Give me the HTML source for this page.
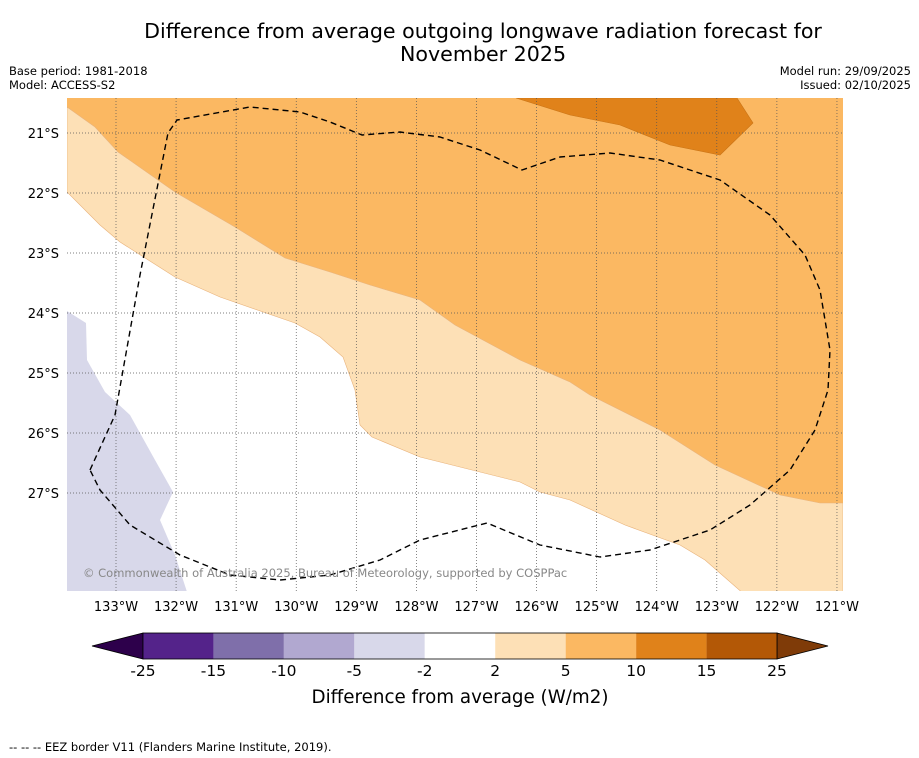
<!DOCTYPE html>
<html><head><meta charset="utf-8"><style>
body{margin:0;background:#fff;width:919px;height:758px;overflow:hidden;font-family:"DejaVu Sans","Liberation Sans",sans-serif}
svg{position:absolute;left:0;top:0}
</style></head><body>
<svg width="919" height="758" viewBox="0 0 919 758">
<text x="483" y="38" text-anchor="middle" font-size="20.6">Difference from average outgoing longwave radiation forecast for</text>
<text x="483" y="61" text-anchor="middle" font-size="20.6">November 2025</text>
<text x="9" y="75" font-size="11.5">Base period: 1981-2018</text>
<text x="9" y="89" font-size="11.5">Model: ACCESS-S2</text>
<text x="911" y="75" font-size="11.5" text-anchor="end">Model run: 29/09/2025</text>
<text x="911" y="89" font-size="11.5" text-anchor="end">Issued: 02/10/2025</text>
<defs><clipPath id="mc"><rect x="67" y="98" width="776" height="493"/></clipPath></defs>
<g clip-path="url(#mc)">
<rect x="67" y="98" width="776" height="493" fill="#fff"/>
<path fill="#fbb862" d="M60,98 L843,98 L843,503 L820,503 L780,495 L715,465 L660,430 L590,395 L570,382 L520,360 L455,325 L420,300 L370,285 L330,272 L285,258 L235,227 L175,192 L118,152 L95,127 L67,107 Z"/>
<path fill="#fde0b6" stroke="#e8b27a" stroke-width="0.6" d="M67,107 L95,127 L118,152 L175,192 L235,227 L285,258 L330,272 L370,285 L420,300 L455,325 L520,360 L570,382 L590,395 L660,430 L715,465 L780,495 L820,503 L843,503 L843,595 L745,595 L705,560 L680,545 L625,525 L570,500 L540,492 L520,482 L420,457 L372,437 L360,425 L355,390 L343,357 L320,337 L295,323 L220,297 L175,277 L120,242 L100,225 L67,192 Z"/>
<path fill="#e0821a" stroke="#c97416" stroke-width="0.6" d="M516,98 L570,115 L620,125 L670,145 L720,155 L753,123 L737,98 Z"/>
<path fill="#d8d8ea" d="M67,311 L86,323 L87,360 L105,392 L130,415 L155,460 L173,492 L160,520 L175,555 L188,595 L60,595 Z"/>
<g id="grid" stroke="#555" stroke-width="0.7" stroke-dasharray="1,2"></g>
<path fill="none" stroke="#000" stroke-width="1.4" stroke-dasharray="6,4" stroke-linejoin="round" d="M90,470 L115,415 L140,275 L168,133 L177,120 L250,107 L300,112 L330,122 L362,135 L400,132 L440,137 L480,150 L522,170 L560,157 L610,153 L660,160 L720,180 L770,215 L805,255 L820,290 L830,350 L828,390 L815,430 L790,470 L750,505 L710,530 L650,550 L600,557 L540,545 L487,523 L420,540 L380,560 L330,575 L280,580 L230,575 L180,555 L130,525 L100,490 Z"/>
<text x="83" y="577" font-size="11.5" fill="#888">© Commonwealth of Australia 2025, Bureau of Meteorology, supported by COSPPac</text>
</g>
<g id="axes" font-size="13"></g>
<g id="cbar"></g>
<text x="460" y="703" text-anchor="middle" font-size="18.3">Difference from average (W/m2)</text>
<text x="9" y="751" font-size="11.5">--  --  -- EEZ border V11 (Flanders Marine Institute, 2019).</text>
</svg>
<script>
const lonTicks=[133,132,131,130,129,128,127,126,125,124,123,122,121];
const latTicks=[21,22,23,24,25,26,27];
const cbLevels=["-25","-15","-10","-5","-2","2","5","10","15","25"];
const cbColors=["#54238a","#7f6faa","#b1a8d0","#d8d8ea","#ffffff","#fde0b6","#fbb862","#e0821a","#b35806"];
const cbLow="#2d004b", cbHigh="#7f3b08";
const NS="http://www.w3.org/2000/svg";
function X(lon){return 116+(133-lon)*60.08;}
function Y(lat){return 133+(lat-21)*60;}
function mk(t,a,p){const e=document.createElementNS(NS,t);for(const k in a)e.setAttribute(k,a[k]);p.appendChild(e);return e;}
const grid=document.getElementById('grid'),axes=document.getElementById('axes');
lonTicks.forEach(l=>{
 const g=mk('line',{x1:X(l),x2:X(l),y1:98,y2:591},grid);
 
 
 const t=mk('text',{x:X(l),y:611,'text-anchor':'middle'},axes);t.textContent=l+'°W';
 
 
});
latTicks.forEach(l=>{
 const g=mk('line',{x1:67,x2:843,y1:Y(l),y2:Y(l)},grid);
 
 
 const t=mk('text',{x:59,y:Y(l)+5,'text-anchor':'end'},axes);t.textContent=l+'°S';
 
 
});
const cb=document.getElementById('cbar');
const x0=143,x1=777,y0=633,h=26,w=(x1-x0)/cbColors.length;
const lt=mk('polygon',{points:`92,${y0+h/2} ${x0},${y0} ${x0},${y0+h}`,fill:cbLow,stroke:'#000','stroke-width':0.8},cb);


const rt=mk('polygon',{points:`828,${y0+h/2} ${x1},${y0} ${x1},${y0+h}`,fill:cbHigh,stroke:'#000','stroke-width':0.8},cb);


cbColors.forEach((c,i)=>{
 const r=mk('rect',{x:x0+i*w,y:y0,width:w,height:h,fill:c},cb);
 
 
});
mk('rect',{x:x0,y:y0,width:x1-x0,height:h,fill:'none',stroke:'#000','stroke-width':0.8},cb);
cbLevels.forEach((v,i)=>{
 const t=mk('text',{x:x0+i*w,y:676,'text-anchor':'middle','font-size':15.5},cb);t.textContent=v;
 
 
});
</script>
</body></html>
